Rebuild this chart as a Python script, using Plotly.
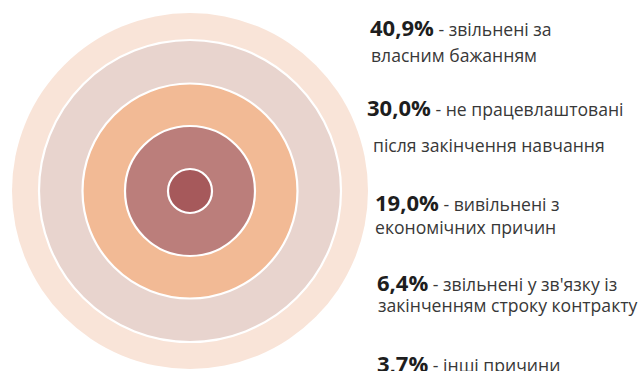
import plotly.graph_objects as go

# Shares of registered unemployed by reason (outermost ring first)
shares = ["40,9%", "30,0%", "19,0%", "6,4%", "3,7%"]
reasons_first = ["звільнені за", "не працевлаштовані", "вивільнені з",
                 "звільнені у зв'язку із", "інші причини"]
reasons_second = ["власним бажанням", "після закінчення навчання",
                  "економічних причин", "закінченням строку контракту", ""]
ring_colors = ["#F9E4D8", "#E8D4CE", "#F2BA95", "#BB7E7B", "#A6595B"]

# Geometry of the target (pixel-like data units)
CX, CY = 190, 191
RING_RADII = [178, 151, 107.5, 65, 22]
BOLD_SIZE = 22
TEXT_SIZE = 17.6
FONT = "Open Sans"

# Baselines / left edges for each label block
first_line = [(368, 33), (365, 113), (373, 208), (375, 288), (375, 369)]
second_line = [(369, 60), (371, 150), (373, 232), (376, 310), (376, 0)]

fig = go.Figure()

shapes = []
for i, (r, col) in enumerate(zip(RING_RADII, ring_colors)):
    shapes.append(dict(
        type="circle", xref="x", yref="y",
        x0=CX - r, x1=CX + r, y0=CY - r, y1=CY + r,
        fillcolor=col,
        line=dict(color="white", width=0 if i == 0 else 2.2),
        layer="below",
    ))


def center_from_baseline(base, size):
    return base - 0.28 * size


annotations = []
for i in range(len(shares)):
    x1, b1 = first_line[i]
    txt = (f"<span style='font-size:{BOLD_SIZE}px;font-weight:bold;color:#1E1E1E'>{shares[i]}</span>"
           f" - {reasons_first[i]}")
    annotations.append(dict(
        x=x1, y=center_from_baseline(b1, BOLD_SIZE), xref="x", yref="y",
        text=txt, showarrow=False, xanchor="left", yanchor="middle",
        font=dict(family=FONT, size=TEXT_SIZE, color="#383838"),
    ))
    if reasons_second[i]:
        x2, b2 = second_line[i]
        annotations.append(dict(
            x=x2, y=center_from_baseline(b2, TEXT_SIZE), xref="x", yref="y",
            text=reasons_second[i], showarrow=False, xanchor="left", yanchor="middle",
            font=dict(family=FONT, size=TEXT_SIZE, color="#383838"),
        ))

# invisible anchor trace so the axes exist
fig.add_trace(go.Scatter(x=[CX], y=[CY], mode="markers",
                         marker=dict(opacity=0), hoverinfo="skip", showlegend=False))

fig.update_layout(
    width=642, height=371,
    margin=dict(l=0, r=0, t=0, b=0),
    paper_bgcolor="white", plot_bgcolor="white",
    shapes=shapes, annotations=annotations,
    xaxis=dict(range=[0, 642], visible=False, fixedrange=True),
    yaxis=dict(range=[371, 0], visible=False, fixedrange=True),
    showlegend=False,
)

fig.write_html("out.html")
